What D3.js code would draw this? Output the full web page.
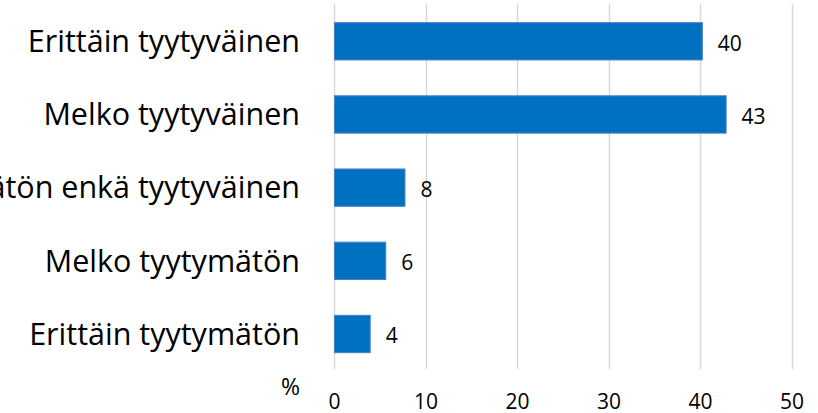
<!DOCTYPE html>
<html>
<head>
<meta charset="utf-8">
<script src="https://cdn.jsdelivr.net/npm/d3@7"></script>
<style>
  html, body { margin: 0; padding: 0; background: #fff; }
  svg { display: block; font-family: "Open Sans", sans-serif; }
</style>
</head>
<body>
<div id="chart"></div>
<script>
const categories = [
  "Erittäin tyytyväinen",
  "Melko tyytyväinen",
  "Ei tyytymätön enkä tyytyväinen",
  "Melko tyytymätön",
  "Erittäin tyytymätön"
];
const values = [40.2, 42.8, 7.7, 5.6, 3.9];
const valueLabels = ["40", "43", "8", "6", "4"];
const tickValues = [0, 10, 20, 30, 40, 50];
const unitLabel = "%";

var width = 818,
  height = 413;

var svg = d3
  .select("#chart")
  .append("svg")
  .attr("width", width)
  .attr("height", height);

var x = d3.scaleLinear().domain([0, 50]).range([334, 791.5]);

var y = d3
  .scaleBand()
  .domain(categories)
  .range([4.7, 370.6])
  .paddingInner(0.49)
  .paddingOuter(0.245);

// gridlines
svg
  .append("g")
  .attr("class", "grid")
  .selectAll("line")
  .data(tickValues)
  .enter()
  .append("line")
  .attr("x1", d => Math.round(x(d)) + 0.5)
  .attr("x2", d => Math.round(x(d)) + 0.5)
  .attr("y1", 4)
  .attr("y2", 369)
  .attr("stroke", "#d9d9d9")
  .attr("stroke-width", 1.5);

// tick labels via axis
var xAxis = d3.axisBottom(x).tickValues(tickValues).tickSize(0).tickPadding(0);
var axisG = svg.append("g").attr("transform", "translate(0,392)").call(xAxis);
axisG.select(".domain").remove();
axisG
  .selectAll("text")
  .attr("dy", null)
  .attr("y", 16.5)
  .attr("fill", "#000")
  .attr("font-family", "Open Sans, sans-serif")
  .attr("font-size", 21);

// bars
svg
  .append("g")
  .selectAll("rect")
  .data(values)
  .enter()
  .append("rect")
  .attr("x", x(0) + 0.5)
  .attr("y", (d, i) => y(categories[i]))
  .attr("width", d => x(d) - x(0))
  .attr("height", y.bandwidth())
  .attr("fill", "#0070c0")
  .attr("stroke", "#4a7fc8")
  .attr("stroke-width", 1);

// value labels
svg
  .append("g")
  .selectAll("text")
  .data(values)
  .enter()
  .append("text")
  .attr("x", d => x(d) + 16)
  .attr("y", (d, i) => y(categories[i]) + y.bandwidth() / 2)
  .attr("dy", "0.45em")
  .attr("font-size", 21)
  .attr("fill", "#000")
  .text((d, i) => valueLabels[i]);

// category labels
svg
  .append("g")
  .selectAll("text")
  .data(categories)
  .enter()
  .append("text")
  .attr("x", 300)
  .attr("y", d => y(d) + y.bandwidth() / 2)
  .attr("dy", "0.35em")
  .attr("text-anchor", "end")
  .attr("font-size", 30.5)
  .attr("fill", "#000")
  .text(d => d);

svg
  .append("text")
  .attr("x", 300)
  .attr("y", 395)
  .attr("text-anchor", "end")
  .attr("font-size", 23)
  .attr("fill", "#000")
  .text(unitLabel);
</script>
</body>
</html>
